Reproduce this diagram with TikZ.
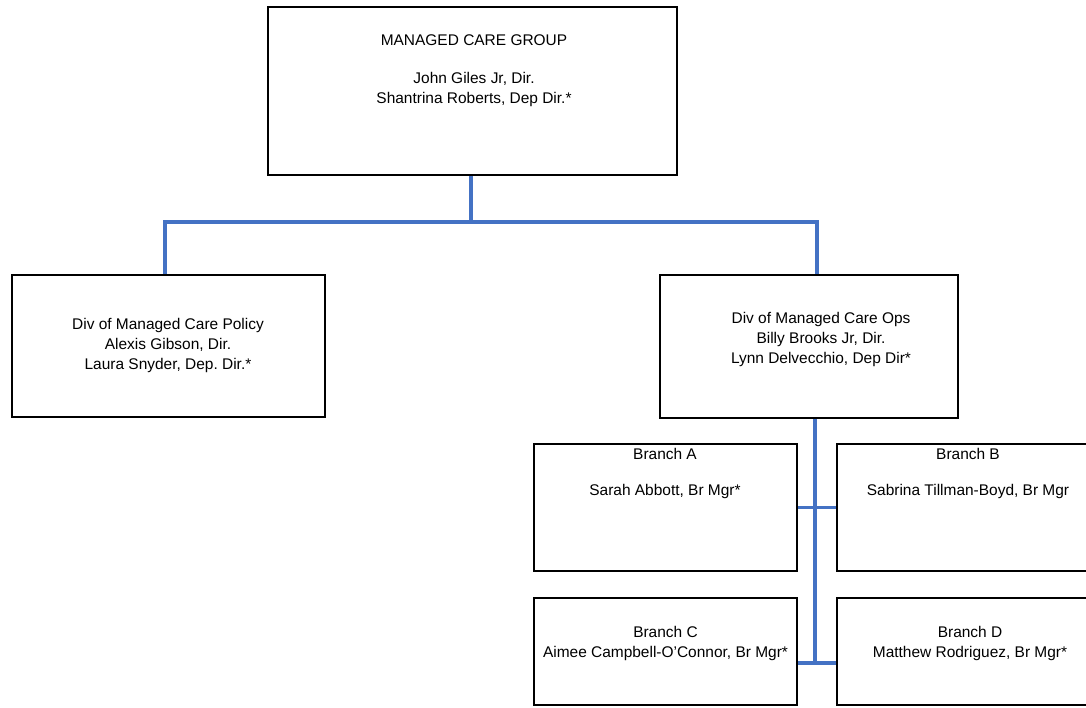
\documentclass[tikz,border=0pt]{standalone}
\usepackage{fontspec}
\setmainfont{Liberation Sans}
\usepackage{tikz}
\usetikzlibrary{positioning,calc}
\definecolor{orgblue}{RGB}{68,114,196}
\frenchspacing

\begin{document}
\begin{tikzpicture}[
  unit/.style={rectangle, draw=black, line width=1.6pt, inner sep=0pt},
  txt/.style={anchor=north, align=center, inner sep=0pt, font=\fontsize{8.8}{11.6}\selectfont},
  conn/.style={draw=orgblue, line width=1.8pt}
]
\useasboundingbox (0,0) rectangle (21.72,-14.14);
% boxes
\node[unit, minimum width=8.18cm, minimum height=3.36cm] (mcg) at (9.45,-1.82) {};
\node[unit, minimum width=6.26cm, minimum height=2.84cm] (policy) at (3.37,-6.92) {};
\node[unit, minimum width=5.96cm, minimum height=2.86cm] (ops) at (16.18,-6.93) {};
\node[unit, minimum width=5.26cm, minimum height=2.54cm] (brA) at (13.31,-10.15) {};
\node[unit, minimum width=5.26cm, minimum height=2.54cm] (brB) at (19.37,-10.15) {};
\node[unit, minimum width=5.26cm, minimum height=2.14cm] (brC) at (13.31,-13.03) {};
\node[unit, minimum width=5.26cm, minimum height=2.14cm] (brD) at (19.37,-13.03) {};
% texts
\node[txt] (mcgTxt) at (9.48,-0.69) {MANAGED CARE GROUP\\[0.35cm]John Giles Jr, Dir.\\Shantrina Roberts, Dep Dir.*};
\node[txt] (policyTxt) at (3.36,-6.35) {Div of Managed Care Policy\\Alexis Gibson, Dir.\\Laura Snyder, Dep. Dir.*};
\node[txt] (opsTxt) at (16.42,-6.23) {Div of Managed Care Ops\\Billy Brooks Jr, Dir.\\Lynn Delvecchio, Dep Dir*};
\node[txt] (brATxt) at (13.30,-8.95) {Branch A\\[0.33cm]Sarah Abbott, Br Mgr*};
\node[txt] (brBTxt) at (19.36,-8.95) {Branch B\\[0.33cm]Sabrina Tillman-Boyd, Br Mgr};
\node[txt] (brCTxt) at (13.31,-12.51) {Branch C\\Aimee Campbell-O'Connor, Br Mgr*};
\node[txt] (brDTxt) at (19.40,-12.51) {Branch D\\Matthew Rodriguez, Br Mgr*};
% connectors
\coordinate (busL) at (3.30,-4.44);
\coordinate (busR) at (16.34,-4.44);
\coordinate (busM) at (9.42,-4.44);
\coordinate (spineEnd) at (16.30,-13.26);
\draw[conn] (busM |- mcg.south) -- (busM);
\draw[conn] (busL |- policy.north) -- (busL) -- (busR) -- (busR |- ops.north);
\draw[conn] (spineEnd |- ops.south) -- (spineEnd);
\draw[conn] (brA.east) -- (brB.west);
\draw[conn] (brC.east |- spineEnd) -- (brD.west |- spineEnd);
\end{tikzpicture}
\end{document}
